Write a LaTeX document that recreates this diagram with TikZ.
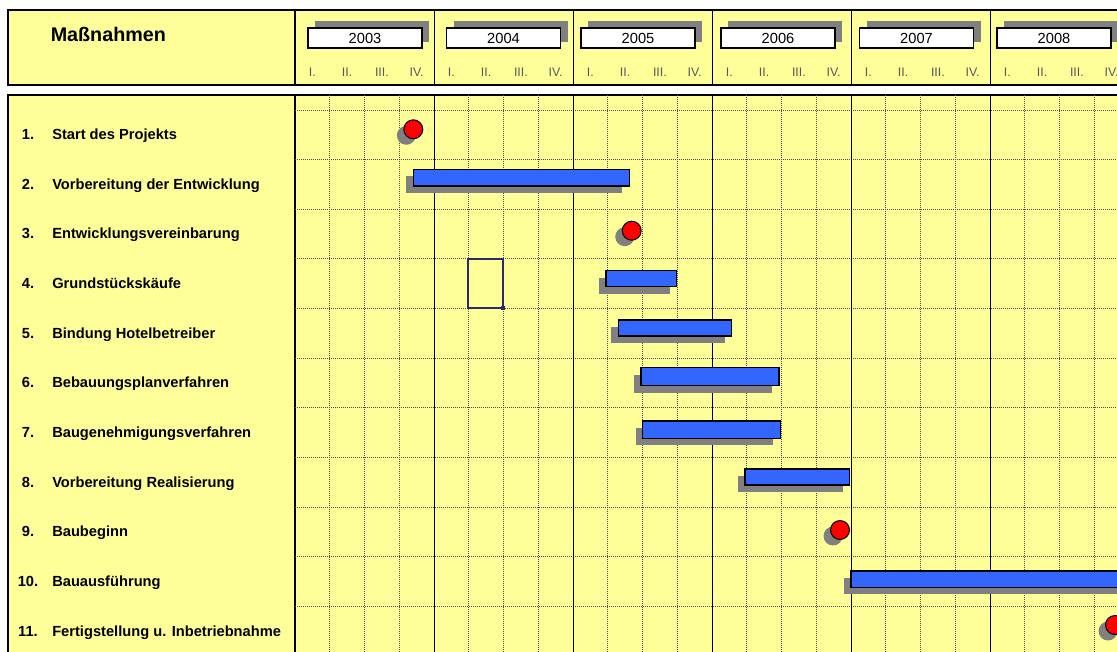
\documentclass[tikz,border=0pt]{standalone}
\usepackage{fontspec}
\setmainfont{Liberation Sans}
\usepackage{tikz}
\usetikzlibrary{positioning}
\definecolor{chartyellow}{HTML}{FFFF99}
\definecolor{barblue}{HTML}{3366FF}
\definecolor{shadowgray}{HTML}{808080}
\definecolor{framenavy}{HTML}{2B2B6B}

\begin{document}
\begin{tikzpicture}[x=0.75pt,y=-0.75pt,
		gridline/.style={line width=0.7pt, dash pattern=on 0.75pt off 0.75pt, black!70},
		yearline/.style={line width=0.75pt, black},
		yearbox/.style={draw, line width=1.2pt, fill=white, minimum width=85.5pt, minimum height=15pt, inner sep=0pt, font=\fontsize{11}{12}\selectfont},
		quarter/.style={anchor=base, inner sep=0pt, text=black!65, font=\fontsize{9.3}{10}\selectfont},
		tasknum/.style={anchor=base, inner sep=0pt, font=\fontsize{11}{13}\selectfont\bfseries},
		tasklabel/.style={anchor=base west, inner sep=0pt, font=\fontsize{11}{13}\selectfont\bfseries},
		taskbar/.style={fill=barblue, draw=black, line width=1.1pt},
		milestone/.style={fill=red, draw=black, line width=0.8pt}]
		\useasboundingbox (0,0) rectangle (1117,651);
		\clip (0,0) rectangle (1117,651);
		\fill[white] (0,0) rectangle (1117,651);
		% Header
		\fill[chartyellow] (8,10) rectangle (1130,85);
		\draw[line width=1.1pt] (1130,10) -- (8,10) -- (8,85) -- (1130,85);
		\draw[line width=0.8pt] (295,10) -- (295,85);
		\node[anchor=base west, inner sep=0pt, font=\fontsize{14.8}{17}\selectfont\bfseries] (head) at (50.5,41.7) {Maßnahmen};
		\foreach \yr/\cx [count=\i from 0] in {2003/365,2004/503.5,2005/638,2006/778,2007/916.5,2008/1054} {
			\draw[yearline] (295+139*\i+139,10) -- (295+139*\i+139,85);
			% year box with shadow
			\fill[shadowgray] (\cx-50,21) rectangle (\cx+64,42);
			\node[yearbox] (y\yr) at (\cx,38) {\yr};
			\foreach \q/\ql [count=\j from 0] in {1/I.,2/II.,3/III.,4/IV.} {
				\node[quarter] (q\yr-\q) at (295+139*\i+34.75*\j+17.4,76) {\ql};
			}
		}
		% Body
		\fill[chartyellow] (8,95) rectangle (1130,660);
		\draw[line width=1.1pt] (1130,95) -- (8,95) -- (8,660);
		\draw[line width=0.8pt] (295,95) -- (295,660);
		% Grid
		\foreach \k in {0,...,10} {
			\draw[gridline] (295,110+49.65*\k) -- (1130,110+49.65*\k);
		}
		\foreach \k in {1,...,23} {
			\pgfmathtruncatemacro{\r}{mod(\k,4)}
			\ifnum\r=0
				\draw[yearline] (295+34.75*\k,95) -- (295+34.75*\k,660);
			\else
				\draw[gridline] (295+34.75*\k,95) -- (295+34.75*\k,660);
			\fi
		}
		% Tasks
		\foreach \n/\txt in {1/Start des Projekts, 2/Vorbereitung der Entwicklung, 3/Entwicklungsvereinbarung,
			4/Grundstückskäufe, 5/Bindung Hotelbetreiber, 6/Bebauungsplanverfahren, 7/Baugenehmigungsverfahren,
			8/Vorbereitung Realisierung, 9/Baubeginn, 10/Bauausführung, 11/Fertigstellung u. Inbetriebnahme} {
			\node[tasknum] (num\n) at (28,139.3+49.7*\n-49.7) {\n.};
			\node[tasklabel] (task\n) at (52,139.3+49.7*\n-49.7) {\txt};
		}
		% Bars
		\foreach \xa/\xb/\ya/\yb in {413.3/629.3/169.3/186, 606/676.7/270.7/286.7, 618.3/731.7/320/336,
			641/779/367.7/385.7, 642.7/780.3/421/438.3, 745/849.5/469/485, 851/1130/571/587.3} {
			\fill[shadowgray] (\xa-7,\ya+7) rectangle (\xb-7,\yb+7);
			\draw[taskbar] (\xa,\ya) rectangle (\xb,\yb);
		}
		% Milestones
		\foreach \mx/\my in {413.3/129.3, 631.7/230.7, 840/530, 1115/625} {
			\fill[shadowgray] (\mx-7,\my+6) circle[radius=7.1pt];
			\draw[milestone] (\mx,\my) circle[radius=7.1pt];
		}
		% Empty frame
		\draw[framenavy, line width=1.1pt] (468,259) rectangle (503,308);
		\fill[framenavy] (501,306) rectangle (505,310);
	\end{tikzpicture}
\end{document}
